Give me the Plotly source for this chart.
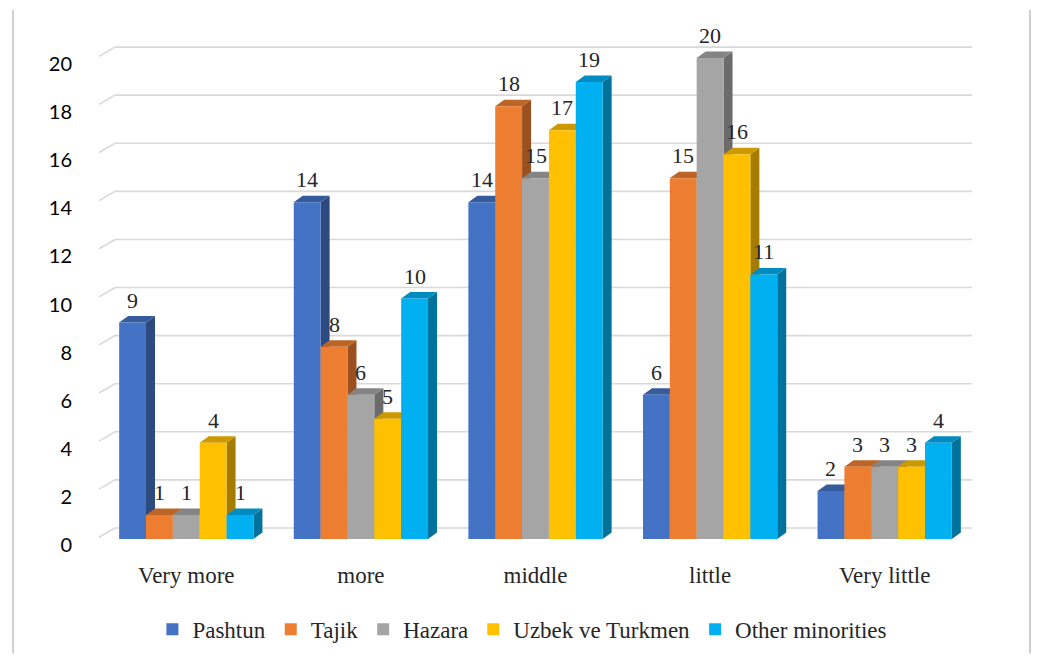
import plotly.graph_objects as go

categories = ["Very more", "more", "middle", "little", "Very little"]
series_names = ["Pashtun", "Tajik", "Hazara", "Uzbek ve Turkmen", "Other minorities"]
pashtun = [9, 14, 14, 6, 2]
tajik = [1, 8, 18, 15, 3]
hazara = [1, 6, 15, 20, 3]
uzbek = [4, 5, 17, 16, 3]
others = [1, 10, 19, 11, 4]
y_ticks = [0, 2, 4, 6, 8, 10, 12, 14, 16, 18, 20]

series_values = [pashtun, tajik, hazara, uzbek, others]
colors = ["#4472C4", "#ED7D31", "#A5A5A5", "#FFC000", "#00B0F0"]


def shade(hexcol, f):
    h = hexcol.lstrip("#")
    r, g, b = (int(h[i:i + 2], 16) for i in (0, 2, 4))
    return "rgb(%d,%d,%d)" % (r * f, g * f, b * f)


OFF = 8  # page body margin
W, H = 1040 - 2 * OFF, 662 - 2 * OFF
# target page-pixel plot box: left 99, right 972, top 22, bottom 539.5
L = 99 - OFF
T = 22 - OFF
R = W - (972 - OFF)
B = H - (539.5 - OFF)
plot_w = W - L - R
plot_h = H - T - B
YMAX = 21.5
px_per_cat = plot_w / len(categories)
px_per_unit = plot_h / YMAX

BARGAP = 0.231
n = len(series_names)
bar_w = (1 - BARGAP) / n
dx = 9 / px_per_cat
dy = 6.5 / px_per_unit

SERIF = "'Liberation Serif', 'Times New Roman', 'DejaVu Serif', serif"

fig = go.Figure()
for name, vals, col in zip(series_names, series_values, colors):
    fig.add_trace(go.Bar(
        name=name, x=categories, y=vals, marker=dict(color=col, line=dict(width=0)),
        hoverinfo="x+y+name",
    ))

shapes = []
# perspective gridlines (from tick values)
gx_front = -0.5 - 9 / px_per_cat
gx_back = -0.5 + 16 / px_per_cat
gx_end = 4.5 + 17 / px_per_cat
off_front = -3.5 / px_per_unit
off_back = 11 / px_per_unit
for v in y_ticks:
    shapes.append(dict(type="path", xref="x", yref="y", layer="below",
                       path="M %f,%f L %f,%f L %f,%f" % (gx_front, v + off_front, gx_back, v + off_back, gx_end, v + off_back),
                       line=dict(color="#d9d9d9", width=1.6)))

annotations = []
for i, (vals, col) in enumerate(zip(series_values, colors)):
    for c, v in enumerate(vals):
        x0 = c - (1 - BARGAP) / 2 + i * bar_w
        x1 = x0 + bar_w
        # side face
        shapes.append(dict(type="path", xref="x", yref="y", layer="below",
                           path="M %f,%f L %f,%f L %f,%f L %f,%f Z" % (x1, 0, x1, v, x1 + dx, v + dy, x1 + dx, dy),
                           fillcolor=shade(col, 0.65), line=dict(width=0)))
        # top face
        shapes.append(dict(type="path", xref="x", yref="y", layer="below",
                           path="M %f,%f L %f,%f L %f,%f L %f,%f Z" % (x0, v, x1, v, x1 + dx, v + dy, x0 + dx, v + dy),
                           fillcolor=shade(col, 0.8), line=dict(width=0)))
        annotations.append(dict(x=(x0 + x1) / 2, y=v, xref="x", yref="y", text=str(v),
                                showarrow=False, yanchor="bottom", yshift=8,
                                font=dict(family=SERIF, size=22, color="#262626")))

# chart frame lines (page px 13 and right edge)
for px in (13, 1030):
    xp = (px - OFF - L) / plot_w
    shapes.append(dict(type="line", xref="paper", yref="paper",
                       x0=xp, x1=xp, y0=(H - B - (10 - OFF)) / plot_h, y1=-B / plot_h,
                       line=dict(color="#d0d0d0", width=2)))

legend_y = (539.5 - 630) / plot_h

fig.update_layout(
    width=W, height=H,
    margin=dict(l=L, r=R, t=T, b=B, autoexpand=False),
    paper_bgcolor="white", plot_bgcolor="rgba(0,0,0,0)",
    font=dict(family=SERIF, size=22, color="#262626"),
    barmode="group", bargap=BARGAP, bargroupgap=0,
    showlegend=True,
    legend=dict(orientation="h", x=0.485, xanchor="center", y=legend_y, yanchor="middle",
                font=dict(family=SERIF, size=23, color="#262626"),
                itemwidth=30, traceorder="normal"),
    shapes=shapes,
    annotations=annotations,
    xaxis=dict(type="category", range=[-0.5, 4.5], showgrid=False, zeroline=False,
               showline=False, ticks="", ticklabelstandoff=20,
               tickfont=dict(family=SERIF, size=23, color="#262626")),
    yaxis=dict(range=[0, YMAX], tickvals=y_ticks, showgrid=False, zeroline=False,
               showline=False, ticks="", ticklabelstandoff=26, ticklabelshift=6,
               tickfont=dict(family="Lato", size=20, color="#000000")),
)

fig.write_html("out.html")
